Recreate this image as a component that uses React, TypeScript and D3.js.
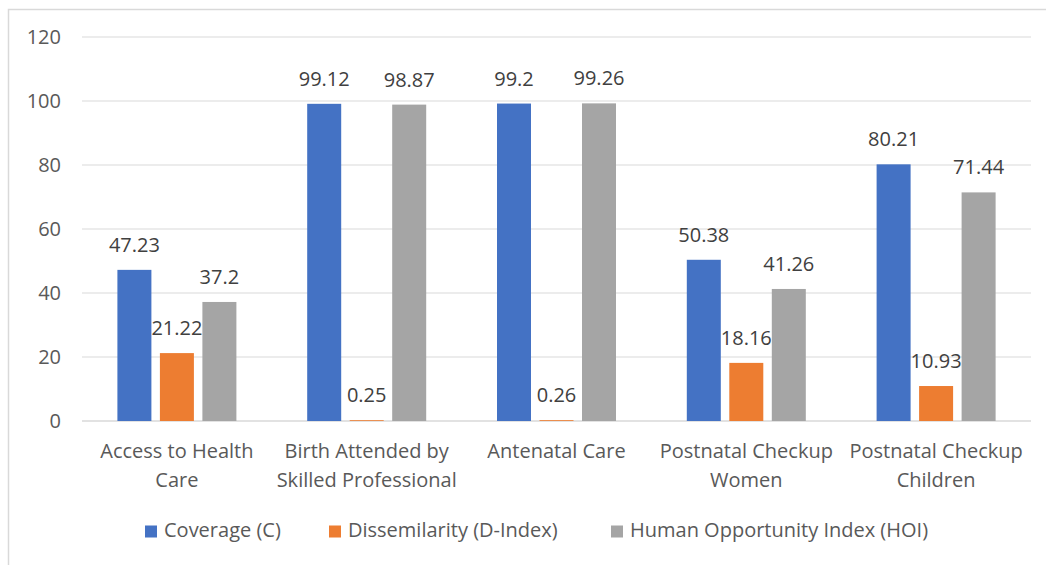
import React from 'react';
import * as d3 from 'd3';

const CATEGORIES = [
  ['Access to Health', 'Care'],
  ['Birth Attended by', 'Skilled Professional'],
  ['Antenatal Care'],
  ['Postnatal Checkup', 'Women'],
  ['Postnatal Checkup', 'Children'],
];
const SERIES = ['Coverage (C)', 'Dissemilarity (D-Index)', 'Human Opportunity Index (HOI)'];
const COLORS = ['#4472C4', '#ED7D31', '#A5A5A5'];
const COVERAGE = [47.23, 99.12, 99.2, 50.38, 80.21];
const DINDEX = [21.22, 0.25, 0.26, 18.16, 10.93];
const HOI = [37.2, 98.87, 99.26, 41.26, 71.44];
const Y_TICKS = [0, 20, 40, 60, 80, 100, 120];

const W = 1046;
const H = 565;
const FONT = '"Open Sans", sans-serif';
const TEXT = '#595959';
const FS = 20;

export default function App() {
  const plot = { left: 82, right: 1031, top: 37, bottom: 421 };
  const values = [COVERAGE, DINDEX, HOI];

  const x0 = d3.scaleBand<number>()
    .domain(CATEGORIES.map((_, i) => i))
    .range([plot.left, plot.right]);
  // group of three bars ~119px wide inside each ~190px category
  const groupW = 119;
  const x1 = d3.scaleBand<number>()
    .domain([0, 1, 2])
    .range([0, groupW])
    .paddingInner(0.2);
  const y = d3.scaleLinear().domain([0, 120]).range([plot.bottom, plot.top]);

  const cx = (ci: number) => (x0(ci) ?? 0) + x0.bandwidth() / 2;

  return (
    <svg width={W} height={H} style={{ position: 'absolute', left: 0, top: 0, background: '#fff' }}
      fontFamily={FONT}>
      {/* chart frame */}
      <rect x={8.5} y={9.5} width={1100} height={700} fill="none" stroke="#d9d9d9" strokeWidth={1.5} />

      {/* gridlines + y labels */}
      {Y_TICKS.map(t => (
        <g key={t}>
          <line x1={plot.left} x2={plot.right} y1={y(t)} y2={y(t)}
            stroke="#d9d9d9" strokeWidth={t === 0 ? 1.5 : 1} />
          <text x={61} y={y(t)} dy="0.35em" textAnchor="end" fontSize={FS} fill={TEXT}>{t}</text>
        </g>
      ))}

      {/* bars + value labels */}
      {CATEGORIES.map((_, ci) => {
        const gx = (x0(ci) ?? 0) + (x0.bandwidth() - groupW) / 2;
        return (
          <g key={ci} transform={`translate(${gx},0)`}>
            {values.map((vals, si) => {
              const bx = x1(si) ?? 0;
              const bw = x1.bandwidth();
              const v = vals[ci];
              return (
                <g key={si}>
                  <rect x={bx} y={y(v)} width={bw} height={y(0) - y(v)} fill={COLORS[si]} />
                  <text x={bx + bw / 2} y={y(v) - 18} textAnchor="middle" fontSize={FS} fill="#404040">
                    {v}
                  </text>
                </g>
              );
            })}
          </g>
        );
      })}

      {/* category labels */}
      {CATEGORIES.map((lines, ci) => (
        <text key={ci} x={cx(ci)} y={458} textAnchor="middle" fontSize={FS} fill={TEXT}>
          {lines.map((l, li) => (
            <tspan key={li} x={cx(ci)} dy={li === 0 ? 0 : 29}>{l}</tspan>
          ))}
        </text>
      ))}

      {/* legend */}
      {SERIES.map((s, si) => {
        const lx = [145, 329, 611][si];
        return (
          <g key={s}>
            <rect x={lx} y={525.5} width={12} height={12} fill={COLORS[si]} />
            <text x={lx + 19} y={537} fontSize={FS} fill={TEXT}>{s}</text>
          </g>
        );
      })}
    </svg>
  );
}
